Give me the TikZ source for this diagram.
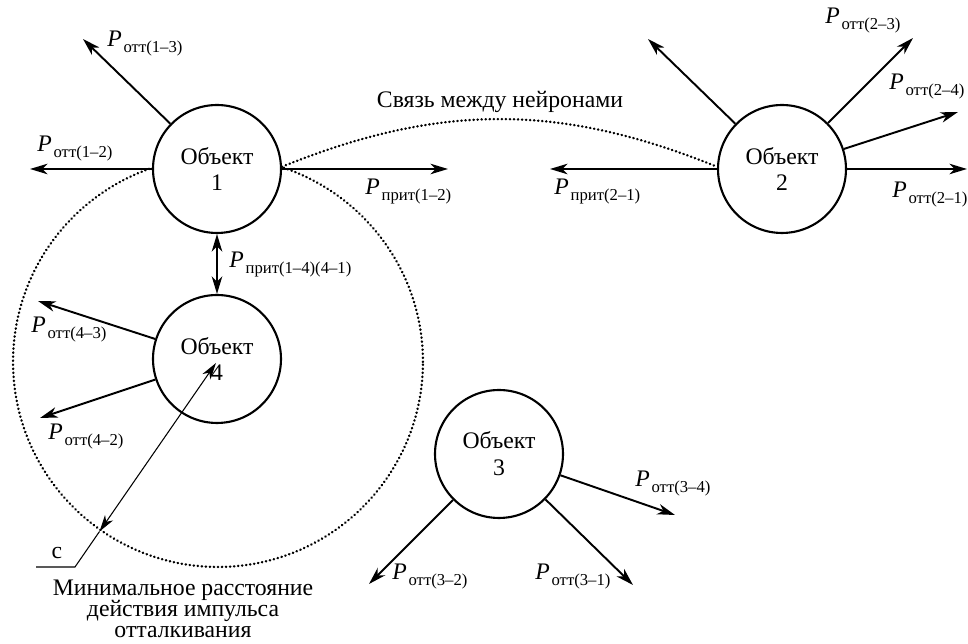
\documentclass[tikz,border=0pt]{standalone}
\usepackage{fontspec}
\setmainfont{Liberation Serif}
\usetikzlibrary{arrows.meta}
\newcommand{\Pf}[1]{\textit{P}\kern1pt\raisebox{-3.4pt}{\fontsize{9.5}{10}\selectfont #1}}
\tikzset{
  ftip/.tip={Stealth[length=10pt,width=6pt,inset=3pt]},
  ttip/.tip={Stealth[length=9.5pt,width=5.5pt,inset=2.8pt]},
  obj/.style={circle, draw, line width=1.2pt, fill=white, minimum size=2.56cm,
    inner sep=0pt, align=center, font=\fontsize{13.5}{15.3}\selectfont},
  force/.style={line width=1.1pt, -ftip},
  lbl/.style={anchor=base west, inner sep=0pt, font=\fontsize{13.5}{15}\selectfont},
  dotline/.style={line width=1.4pt, line cap=round, dash pattern=on 0.2pt off 2.1pt}
}
\begin{document}
\begin{tikzpicture}[x=0.02cm, y=-0.02cm]
  \useasboundingbox (0,0) rectangle (968,644);
  % zone of object 4
  \draw[dotline] (218,362) circle[radius=4.1cm];
  \node[obj] (o1) at (217,169) {Объект\\1};
  \node[obj] (o2) at (782,169) {Объект\\2};
  \node[obj] (o3) at (499,454) {Объект\\3};
  \node[obj] (o4) at (217,359) {Объект\\4};
  \path
    (83,39) coordinate (a13)
    (30,169) coordinate (a12)
    (448,169) coordinate (p12)
    (648,39) coordinate (a2x)
    (913,38) coordinate (a23)
    (958,112) coordinate (a24)
    (967,169) coordinate (a21)
    (550,169) coordinate (p21)
    (38,301) coordinate (a43)
    (40,418) coordinate (a42)
    (675,515) coordinate (a34)
    (633,585) coordinate (a31)
    (369,584) coordinate (a32);
  \begin{scope}[force]
    \draw (o1) to (a13);
    \draw (o1) to (a12);
    \draw (o1) to (p12);
    \draw (o2) to (a2x);
    \draw (o2) to (a23);
    \draw (o2) to (a24);
    \draw (o2) to (a21);
    \draw (o2) to (p21);
    \draw (o4) to (a43);
    \draw (o4) to (a42);
    \draw (o3) to (a34);
    \draw (o3) to (a31);
    \draw (o3) to (a32);
    \draw[ftip-ftip] (o1) to (o4);
  \end{scope}
  \draw[dotline] (o1.2) to[bend left=22] (o2.178);
  % radius
  \path (216,363) coordinate (c4)
        (99.5,531.5) coordinate (rim)
        (75,567) coordinate (elbow)
        (36,567) coordinate (foot);
  \draw[line width=0.6pt, ttip-ttip] (rim) -- (c4);
  \draw[line width=0.6pt] (rim) -- (elbow) -- (foot);
  \node[lbl] (l13) at (107,47) {\Pf{отт(1–3)}};
  \node[lbl] (l12) at (37,152) {\Pf{отт(1–2)}};
  \node[lbl] (lp12) at (365,195) {\Pf{прит(1–2)}};
  \node[lbl] (lp14) at (229,268) {\Pf{прит(1–4)(4–1)}};
  \node[lbl] (l23) at (825,24) {\Pf{отт(2–3)}};
  \node[lbl] (l24) at (889,90) {\Pf{отт(2–4)}};
  \node[lbl] (l21) at (892,198) {\Pf{отт(2–1)}};
  \node[lbl] (lp21) at (554,195) {\Pf{прит(2–1)}};
  \node[lbl] (l43) at (31,333) {\Pf{отт(4–3)}};
  \node[lbl] (l42) at (48,440) {\Pf{отт(4–2)}};
  \node[lbl] (l32) at (392,580) {\Pf{отт(3–2)}};
  \node[lbl] (l31) at (535,580) {\Pf{отт(3–1)}};
  \node[lbl] (l34) at (635,487) {\Pf{отт(3–4)}};
  \node[lbl, anchor=base] (link) at (500,108) {Связь между нейронами};
  \node[lbl, anchor=base] (c) at (57,559) {c};
  \node[lbl, anchor=base, align=center, font=\fontsize{13.5}{12.2}\selectfont] (zone)
    at (183,638) {Минимальное расстояние\\действия импульса\\отталкивания};
\end{tikzpicture}
\end{document}
